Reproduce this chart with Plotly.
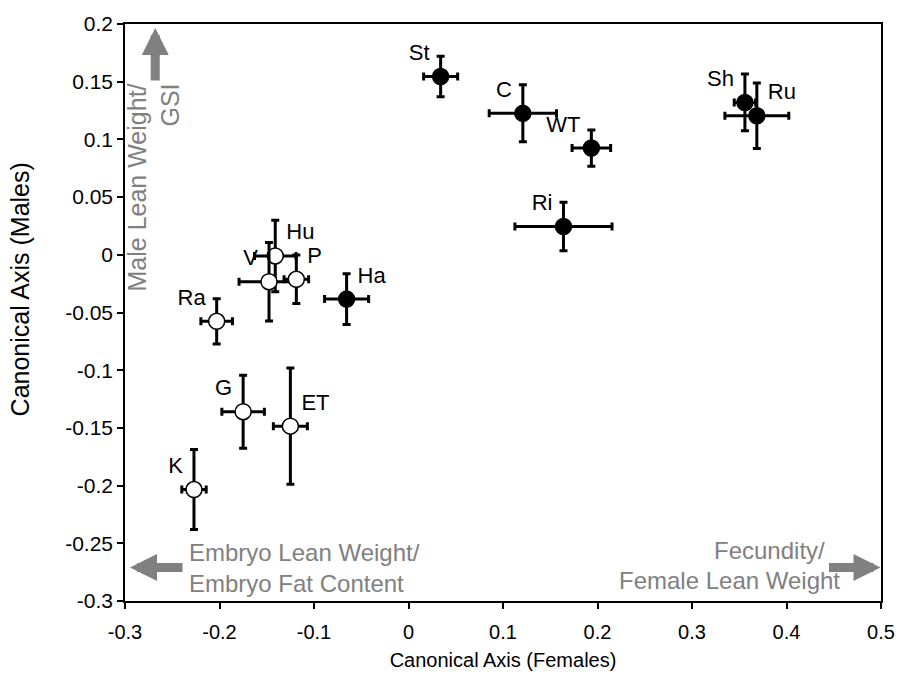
import plotly.graph_objects as go

labels = ["St", "C", "WT", "Ri", "Sh", "Ru", "Ha", "Hu", "V", "P", "Ra", "G", "ET", "K"]
x_vals = [0.034, 0.121, 0.1935, 0.164, 0.356, 0.3686, -0.0655, -0.141, -0.1476, -0.1187, -0.203, -0.175, -0.125, -0.227]
y_vals = [0.1545, 0.1226, 0.0925, 0.0245, 0.132, 0.1205, -0.0384, -0.001, -0.0233, -0.0212, -0.0576, -0.136, -0.1485, -0.2034]
x_err = [0.018, 0.0356, 0.0204, 0.0514, 0.0113, 0.0338, 0.0233, 0.022, 0.0317, 0.013, 0.0167, 0.0225, 0.018, 0.0129]
y_err = [0.0176, 0.0247, 0.0157, 0.021, 0.0246, 0.0283, 0.0219, 0.031, 0.034, 0.021, 0.0196, 0.0317, 0.0504, 0.0347]
filled = [True, True, True, True, True, True, True, False, False, False, False, False, False, False]
text_pos = ["top left", "top left", "top left", "top left", "top left", "top right", "top right",
            "top right", "top left", "top right", "top left", "top left", "top right", "top left"]

FONT = "Liberation Sans, Arial, sans-serif"
GRAY = "#808080"

fig = go.Figure()
for i, lab in enumerate(labels):
    fig.add_trace(go.Scatter(
        x=[x_vals[i]], y=[y_vals[i]],
        mode="markers+text",
        text=[lab], textposition=text_pos[i],
        textfont=dict(family=FONT, size=22, color="black"),
        marker=dict(size=16, color="black" if filled[i] else "white",
                    line=dict(color="black", width=1.5)),
        error_x=dict(type="data", array=[x_err[i]], color="black", thickness=3, width=4),
        error_y=dict(type="data", array=[y_err[i]], color="black", thickness=3, width=4),
        showlegend=False, cliponaxis=False,
    ))

annots = [
    # arrows
    dict(x=-0.268, y=0.1966, ax=0, ay=54, xref="x", yref="y", showarrow=True, text="",
         arrowhead=2, arrowwidth=9, arrowsize=0.6, arrowcolor=GRAY),
    dict(x=-0.2947, y=-0.271, ax=54, ay=0, xref="x", yref="y", showarrow=True, text="",
         arrowhead=2, arrowwidth=9, arrowsize=0.6, arrowcolor=GRAY),
    dict(x=0.4995, y=-0.271, ax=-53, ay=0, xref="x", yref="y", showarrow=True, text="",
         arrowhead=2, arrowwidth=9, arrowsize=0.6, arrowcolor=GRAY),
    # gray texts
    dict(x=-0.27, y=0.1505, xref="x", yref="y", showarrow=False, textangle=-90,
         text="Male Lean Weight/<br>GSI", align="right", xanchor="center", yanchor="top",
         font=dict(family=FONT, size=25, color=GRAY)),
    dict(x=-0.2346, y=-0.271, xref="x", yref="y", showarrow=False,
         text="Embryo Lean Weight/<br>Embryo Fat Content", align="left", xanchor="left", yanchor="middle",
         font=dict(family=FONT, size=24, color=GRAY)),
    dict(x=0.443, y=-0.2563, xref="x", yref="y", showarrow=False,
         text="Fecundity/", xanchor="right", yanchor="middle",
         font=dict(family=FONT, size=24, color=GRAY)),
    dict(x=0.4585, y=-0.282, xref="x", yref="y", showarrow=False,
         text="Female Lean Weight", xanchor="right", yanchor="middle",
         font=dict(family=FONT, size=24, color=GRAY)),
    # y axis title
    dict(x=0, y=0.54, xref="paper", yref="paper", xshift=-105, showarrow=False, textangle=-90,
         text="Canonical Axis (Males)", xanchor="center", yanchor="middle",
         font=dict(family=FONT, size=25, color="black")),
]

fig.update_layout(
    width=907, height=683,
    margin=dict(l=125, r=24, t=18, b=82),
    plot_bgcolor="white", paper_bgcolor="white",
    font=dict(family=FONT, size=20, color="black"),
    annotations=annots,
    xaxis=dict(range=[-0.3, 0.5], tickvals=[-0.3, -0.2, -0.1, 0, 0.1, 0.2, 0.3, 0.4, 0.5],
               ticktext=["-0.3", "-0.2", "-0.1", "0", "0.1", "0.2", "0.3", "0.4", "0.5"],
               showgrid=False, zeroline=False, showline=True, linecolor="black", linewidth=1.5,
               mirror=True, ticks="outside", ticklen=6, tickwidth=1.5, tickcolor="black",
               tickfont=dict(size=20), ticklabelstandoff=6,
               title=dict(text="Canonical Axis (Females)", font=dict(size=20), standoff=11)),
    yaxis=dict(range=[-0.3, 0.2],
               tickvals=[-0.3, -0.25, -0.2, -0.15, -0.1, -0.05, 0, 0.05, 0.1, 0.15, 0.2],
               ticktext=["-0.3", "-0.25", "-0.2", "-0.15", "-0.1", "-0.05", "0", "0.05", "0.1", "0.15", "0.2"],
               showgrid=False, zeroline=False, showline=True, linecolor="black", linewidth=1.5,
               mirror=True, ticks="outside", ticklen=6, tickwidth=1.5, tickcolor="black",
               tickfont=dict(size=21)),
)

fig.write_html("out.html")
